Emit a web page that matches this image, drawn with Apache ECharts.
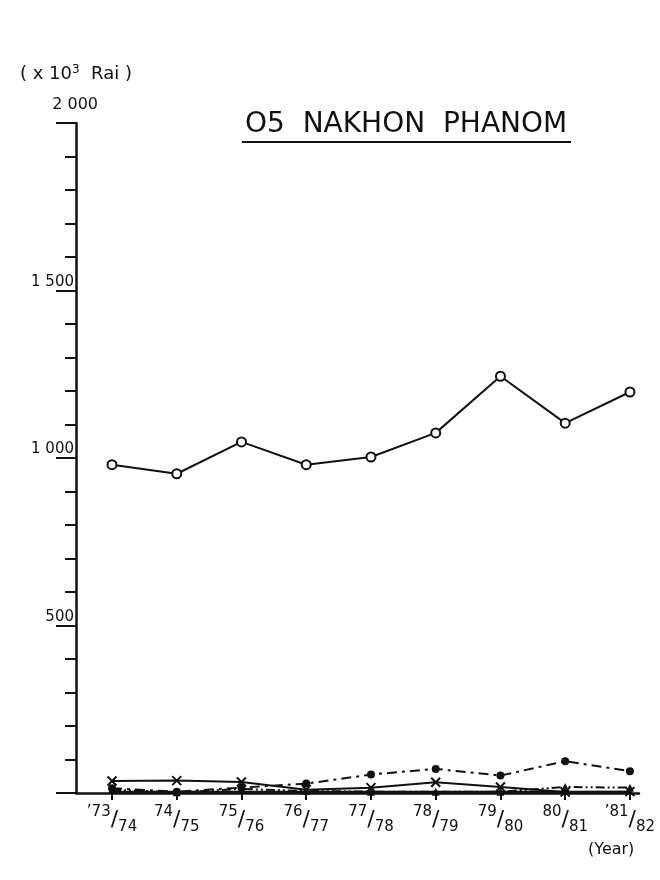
<!DOCTYPE html>
<html>
<head>
<meta charset="utf-8">
<script src="https://cdn.jsdelivr.net/npm/echarts@6/dist/echarts.min.js"></script>
<style>
  html, body { margin: 0; padding: 0; background: #fff; }
  #chart { width: 660px; height: 880px; }
</style>
</head>
<body>
<div id="chart"></div>
<script>
// crop years, split in the upper / lower half of the "73/74" style label
const yearTop = ['\u201973', '74', '75', '76', '77', '78', '79', '80', '\u201981'];
const yearBottom = ['74', '75', '76', '77', '78', '79', '80', '81', '82'];

// planted area (x10^3 rai)
const openCircle = [980, 953, 1048, 980, 1003, 1075, 1244, 1104, 1197];
const filledCircle = [14, 4, 16, 28, 55, 72, 52, 95, 65];
const cross = [36, 37, 33, 10, 16, 32, 18, 3, 4];
const triangle = [10, 2, 12, 6, 4, 4, 4, 18, 16];
const baseLine = [2, 2, 2, 2, 2, 2, 2, 2, 2];

const yTicks = [0, 500, 1000, 1500, 2000];
const yTickLabels = ['', '500', '1 000', '1 500', '2 000'];

const ink = '#111';
const font = 'DejaVu Sans';
const idx = yearTop.map((_, i) => i);
const pts = arr => arr.map((v, i) => [i, v]);

const chart = echarts.init(document.getElementById('chart'));

chart.setOption({
  backgroundColor: '#fff',
  animation: false,
  textStyle: { fontFamily: font, color: ink },
  title: {
    text: 'O5  NAKHON  PHANOM',
    left: 240,
    top: 106,
    textStyle: { fontFamily: font, fontSize: 28, fontWeight: 'normal', color: ink }
  },
  grid: { left: 76, right: 21, top: 123, bottom: 87, containLabel: false },
  xAxis: {
    type: 'value',
    min: -0.556,
    max: 8.14,
    splitLine: { show: false },
    axisLine: { show: true, onZero: false, lineStyle: { color: ink, width: 2.5 } },
    axisTick: { show: true, customValues: idx, length: 7, lineStyle: { color: ink, width: 2 } },
    axisLabel: {
      customValues: idx,
      margin: 12,
      formatter: v => `{t|${yearTop[v]}}{s|/}{b|${yearBottom[v]}}`,
      rich: {
        t: { fontFamily: font, fontSize: 15, color: ink, verticalAlign: 'top', lineHeight: 16 },
        s: { fontFamily: font, fontSize: 22, color: ink, lineHeight: 30 },
        b: { fontFamily: font, fontSize: 15, color: ink, verticalAlign: 'bottom', lineHeight: 16 }
      }
    }
  },
  yAxis: {
    type: 'value',
    min: 0,
    max: 2000,
    interval: 500,
    name: '( x 10{sup|3}  Rai )',
    nameLocation: 'end',
    nameGap: 38,
    nameTextStyle: {
      fontFamily: font, fontSize: 18, color: ink,
      rich: { sup: { fontFamily: font, fontSize: 12, color: ink, verticalAlign: 'top', padding: [0, 0, 9, 0] } }
    },
    splitLine: { show: false },
    axisLine: { show: true, onZero: false, lineStyle: { color: ink, width: 2.5 } },
    axisTick: { show: true, length: 20, lineStyle: { color: ink, width: 2 } },
    minorTick: { show: true, splitNumber: 5, length: 11, lineStyle: { color: ink, width: 2 } },
    axisLabel: {
      margin: 2,
      align: 'right',
      verticalAlign: 'bottom',
      formatter: v => {
        const lab = yTickLabels[yTicks.indexOf(v)];
        if (v === 2000) return `{top|${lab}}`;
        return `{n|${lab}}`;
      },
      rich: {
        top: { fontFamily: font, fontSize: 16, color: ink, padding: [0, -24, 10, 0] },
        n: { fontFamily: font, fontSize: 15, color: ink, padding: [0, 0, 1, 0] }
      }
    }
  },
  graphic: [
    { type: 'line', shape: { x1: 242, y1: 142, x2: 571, y2: 142 }, style: { stroke: ink, lineWidth: 2 } },
    { type: 'text', left: 588, top: 842, style: { text: '(Year)', font: '16px "DejaVu Sans"', fill: ink } }
  ],
  series: [
    {
      type: 'line', data: pts(openCircle), symbol: 'circle', symbolSize: 9,
      itemStyle: { color: '#fff', borderColor: ink, borderWidth: 2 },
      lineStyle: { color: ink, width: 2 }, z: 5
    },
    {
      type: 'line', data: pts(filledCircle), symbol: 'circle', symbolSize: 8,
      itemStyle: { color: ink },
      lineStyle: { color: ink, width: 2, type: [10, 5, 3, 5] }
    },
    {
      type: 'line', data: pts(cross), symbol: 'path://M0,0 L10,10 M10,0 L0,10', symbolSize: 9,
      itemStyle: { color: 'none', borderColor: ink, borderWidth: 2 },
      lineStyle: { color: ink, width: 2 }
    },
    {
      type: 'line', data: pts(triangle), symbol: 'triangle', symbolSize: 8,
      itemStyle: { color: ink },
      lineStyle: { color: ink, width: 2, type: [9, 3, 2, 3, 2, 3] }
    },
    {
      type: 'line', data: pts(baseLine), symbol: 'none',
      lineStyle: { color: ink, width: 3 }
    }
  ]
});
</script>
</body>
</html>
